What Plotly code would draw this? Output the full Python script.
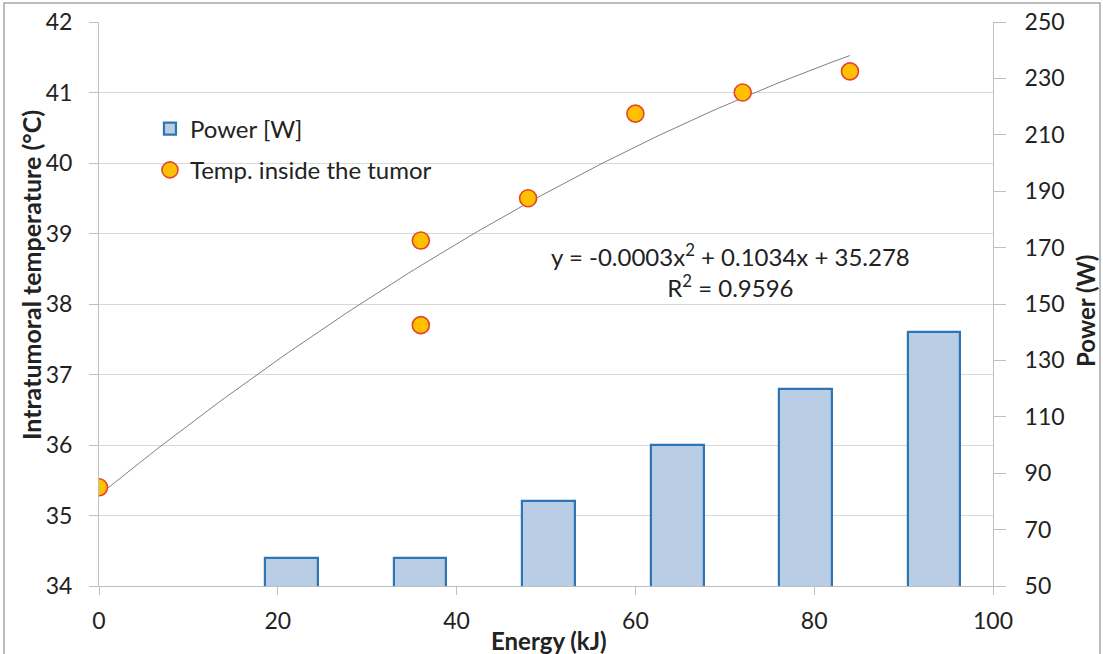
import numpy as np
import plotly.graph_objects as go

# Data
bar_x = [21.5, 35.9, 50.3, 64.7, 79.0, 93.4]
power_w = [60, 60, 80, 100, 120, 140]
energy_kj = [0, 36, 36, 48, 60, 72, 84]
temp_c = [35.4, 38.9, 37.7, 39.5, 40.7, 41.0, 41.3]
equation_text = "y = -0.0003x<sup>2</sup> + 0.1034x + 35.278<br>R<sup>2</sup> = 0.9596"
x_title = "<b>Energy (kJ)</b>"
y_title = "<b>Intratumoral temperature (°C)</b>"
y2_title = "<b>Power (W)</b>"

coef = np.polyfit(energy_kj, temp_c, 2)
fit_x = np.linspace(0, 84, 120)
fit_y = np.polyval(coef, fit_x)

FONT = "Lato"
L, R, T, B = 99, 110, 22, 68
PW, PH = 1103 - L - R, 654 - T - B


def px(xp):
    return (xp - L) / PW


def py(yp):
    return (654 - B - yp) / PH


fig = go.Figure()
fig.add_trace(go.Bar(
    x=bar_x, y=power_w, yaxis="y2", width=5.9, name="Power [W]",
    legendgroup="a",
    marker=dict(color="#b9cde5", line=dict(color="#2e75b6", width=2.2)),
))
fig.add_trace(go.Scatter(
    x=fit_x, y=fit_y, mode="lines", line=dict(color="#808080", width=1),
    showlegend=False, hoverinfo="skip", legendgroup="c",
))
fig.add_trace(go.Scatter(
    x=energy_kj, y=temp_c, mode="markers", name="Temp. inside the tumor",
    legendgroup="b",
    marker=dict(color="#ffc000", size=17, line=dict(color="#e2452b", width=1.6)),
))

fig.update_layout(
    width=1103, height=654,
    margin=dict(l=L, r=R, t=T, b=B),
    paper_bgcolor="white", plot_bgcolor="white",
    font=dict(family=FONT, size=23, color="#222"),
    bargap=0,
    xaxis=dict(
        range=[0, 100], dtick=20, showgrid=False, zeroline=False,
        showline=True, linecolor="#bfbfbf", linewidth=1,
        ticks="outside", ticklen=8, tickcolor="#bfbfbf",
        ticklabelstandoff=6, automargin=False,
    ),
    yaxis=dict(
        range=[34, 42], dtick=1, showgrid=True, gridcolor="#d9d9d9",
        zeroline=False, showline=True, linecolor="#bfbfbf",
        ticks="outside", ticklen=9, tickcolor="#bfbfbf",
        ticklabelstandoff=12, automargin=False,
    ),
    yaxis2=dict(
        range=[50, 250], tick0=50, dtick=20, overlaying="y", side="right",
        showgrid=False, zeroline=False, showline=True, linecolor="#bfbfbf",
        ticks="outside", ticklen=12, tickcolor="#bfbfbf",
        ticklabelstandoff=14, automargin=False,
    ),
    legend=dict(x=0.057, y=0.85, xanchor="left", yanchor="top",
                bgcolor="rgba(0,0,0,0)", font=dict(size=24),
                traceorder="grouped", tracegroupgap=7, itemwidth=30),
    annotations=[
        dict(x=70.6, y=38.48, xref="x", yref="y", text=equation_text, showarrow=False,
             font=dict(size=24), align="center", xanchor="center", yanchor="middle"),
        dict(x=px(549), y=py(640), xref="paper", yref="paper", text=x_title,
             showarrow=False, font=dict(size=24), xanchor="center", yanchor="middle"),
        dict(x=px(31), y=py(275), xref="paper", yref="paper", text=y_title,
             showarrow=False, font=dict(size=25), textangle=-90,
             xanchor="center", yanchor="middle"),
        dict(x=px(1085), y=py(311), xref="paper", yref="paper", text=y2_title,
             showarrow=False, font=dict(size=24), textangle=-90,
             xanchor="center", yanchor="middle"),
    ],
    shapes=[dict(type="rect", xref="paper", yref="paper",
                 x0=px(4), x1=px(1100), y0=py(660), y1=py(3),
                 line=dict(color="#a6a6a6", width=1.5), layer="below")],
)

fig.write_html("out.html", config={"displayModeBar": False},
               post_script="document.body.style.margin='0px';")
